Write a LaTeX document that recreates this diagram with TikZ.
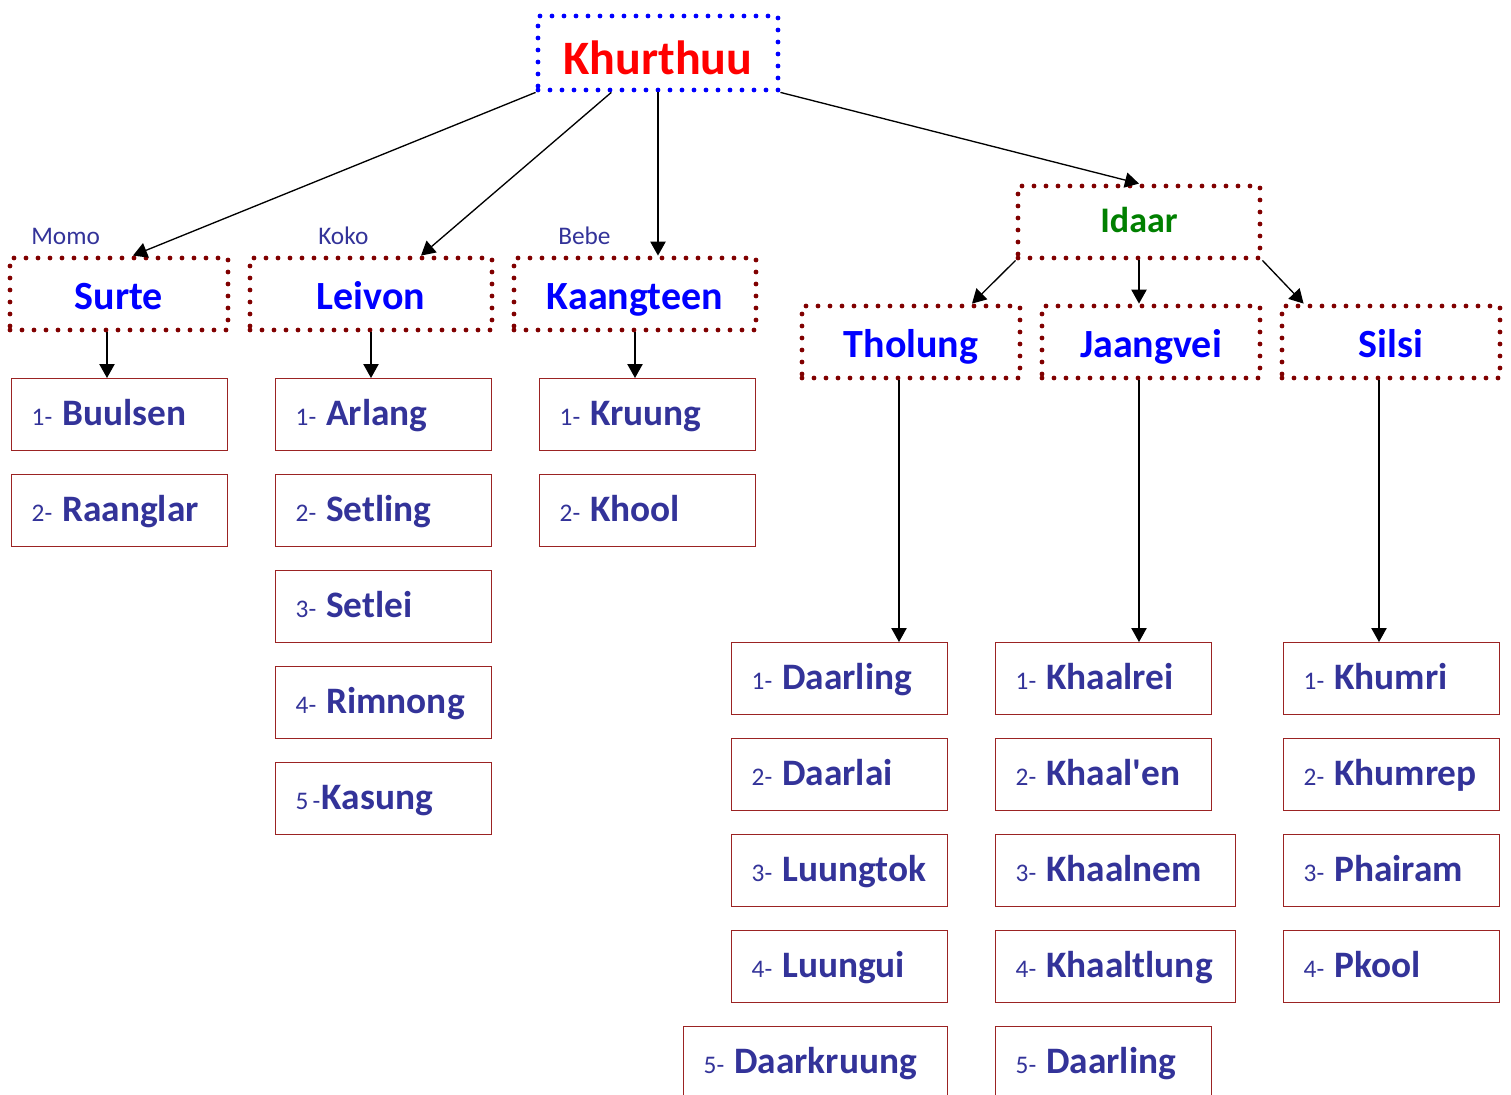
\documentclass[tikz,border=0pt]{standalone}
\usepackage{fontspec}
\setmainfont{Carlito}
\usepackage{tikz}
\usetikzlibrary{arrows.meta}
\definecolor{ItemBlue}{RGB}{51,51,153}
\definecolor{BoxRed}{RGB}{155,35,35}
\definecolor{DotRed}{RGB}{128,0,0}
\definecolor{DotBlue}{RGB}{0,0,255}
\definecolor{TitleGreen}{RGB}{0,128,0}
\newcommand{\ItemNum}[1]{{\fontsize{19pt}{22pt}\mdseries\selectfont #1}}
\newcommand{\Item}[3][7.5pt]{\mbox{\ItemNum{#2}\hspace{#1}#3}}
\tikzset{
  BaseNode/.style = {rectangle, inner sep=0pt},
  DotNode/.style = {BaseNode, line width=3.6pt, dash pattern=on 0pt off 9pt, line cap=round, minimum height=54pt, text height=22.5pt, text depth=0pt, text=blue, font=\fontsize{30pt}{36pt}\selectfont\bfseries},
  RootNode/.style = {DotNode, draw=DotBlue, minimum width=180pt, minimum height=55.5pt, text height=33pt, text=red, font=\fontsize{36pt}{42pt}\selectfont\bfseries},
  GroupNode/.style = {DotNode, draw=DotRed, minimum width=#1},
  GroupNode/.default = 163.5pt,
  ItemNode/.style = {BaseNode, anchor=north west, draw=BoxRed, line width=1pt, minimum height=54pt, inner xsep=15pt, text width=#1, align=left, text height=16pt, text depth=0pt, text=ItemBlue, font=\fontsize{28pt}{33pt}\selectfont\bfseries},
  ItemNode/.default = 132pt,
  NoteNode/.style = {BaseNode, anchor=base west, text=ItemBlue, font=\fontsize{19pt}{22pt}\selectfont},
  Link/.style = {->, line width=1pt},
}

\begin{document}
\begin{tikzpicture}[x=0.75pt, y=-0.75pt, >={Triangle[length=10.5pt,width=11.5pt]}]
  \useasboundingbox (0,0) rectangle (1511,1095);
  \clip (0,0) rectangle (1511,1095);

  \node [RootNode] (root) at (658,53) {Khurthuu};

  \node [GroupNode] (surte) at (119,294) {Surte};
  \node [GroupNode=181.5pt] (leivon) at (371,294) {Leivon};
  \node [GroupNode=181.5pt] (kaang) at (635,294) {Kaangteen};
  \node [GroupNode=181.5pt, text=TitleGreen, text height=16.5pt, font=\fontsize{27pt}{32pt}\selectfont\bfseries] (idaar) at (1139,222) {Idaar};
  \node [GroupNode] (tholung) at (911,342) {Tholung};
  \node [GroupNode] (jaangvei) at (1151,342) {Jaangvei};
  \node [GroupNode] (silsi) at (1391,342) {Silsi};

  \node [NoteNode] (momo) at (31,245) {Momo};
  \node [NoteNode] (koko) at (318,245) {Koko};
  \node [NoteNode] (bebe) at (558,245) {Bebe};

  \node [ItemNode] (s1) at (11,378) {\Item{1-}{Buulsen}};
  \node [ItemNode] (s2) at (11,474) {\Item{2-}{Raanglar}};

  \node [ItemNode] (l1) at (275,378) {\Item{1-}{Arlang}};
  \node [ItemNode] (l2) at (275,474) {\Item{2-}{Setling}};
  \node [ItemNode] (l3) at (275,570) {\Item{3-}{Setlei}};
  \node [ItemNode] (l4) at (275,666) {\Item{4-}{Rimnong}};
  \node [ItemNode] (l5) at (275,762) {\Item[1pt]{5\,-}{Kasung}};

  \node [ItemNode] (k1) at (539,378) {\Item{1-}{Kruung}};
  \node [ItemNode] (k2) at (539,474) {\Item{2-}{Khool}};

  \node [ItemNode] (d1) at (731,642) {\Item{1-}{Daarling}};
  \node [ItemNode] (d2) at (731,738) {\Item{2-}{Daarlai}};
  \node [ItemNode] (d3) at (731,834) {\Item{3-}{Luungtok}};
  \node [ItemNode] (d4) at (731,930) {\Item{4-}{Luungui}};
  \node [ItemNode=168pt] (d5) at (683,1026) {\Item{5-}{Daarkruung}};

  \node [ItemNode] (j1) at (995,642) {\Item{1-}{Khaalrei}};
  \node [ItemNode] (j2) at (995,738) {\Item{2-}{Khaal\textquotesingle en}};
  \node [ItemNode=150pt] (j3) at (995,834) {\Item{3-}{Khaalnem}};
  \node [ItemNode=150pt] (j4) at (995,930) {\Item{4-}{Khaaltlung}};
  \node [ItemNode] (j5) at (995,1026) {\Item{5-}{Daarling}};

  \node [ItemNode] (i1) at (1283,642) {\Item{1-}{Khumri}};
  \node [ItemNode] (i2) at (1283,738) {\Item{2-}{Khumrep}};
  \node [ItemNode] (i3) at (1283,834) {\Item{3-}{Phairam}};
  \node [ItemNode] (i4) at (1283,930) {\Item{4-}{Pkool}};

  \draw [Link] (root.south west) -- ([xshift=10.5pt]surte.north);
  \draw [Link] ([xshift=-35pt]root.south) -- ([xshift=37.5pt]leivon.north);
  \draw [Link] (root.south) -- (root.south |- kaang.north);
  \draw [Link] (root.south east) -- (idaar.north);

  \draw [Link] (idaar.south west) -- ([xshift=45.75pt]tholung.north);
  \draw [Link] (idaar.south) -- (idaar.south |- jaangvei.north);
  \draw [Link] (idaar.south east) -- ([xshift=18pt]silsi.north west);

  \coordinate (surteOut) at ([xshift=-9pt]surte.south);
  \coordinate (tholungOut) at ([xshift=-9pt]tholung.south);
  \coordinate (jaangveiOut) at ([xshift=-9pt]jaangvei.south);
  \coordinate (silsiOut) at ([xshift=-9pt]silsi.south);
  \draw [Link] (surteOut) -- (surteOut |- s1.north);
  \draw [Link] (leivon.south) -- (leivon.south |- l1.north);
  \draw [Link] (kaang.south) -- (kaang.south |- k1.north);
  \draw [Link] (tholungOut) -- (tholungOut |- d1.north);
  \draw [Link] (jaangveiOut) -- (jaangveiOut |- j1.north);
  \draw [Link] (silsiOut) -- (silsiOut |- i1.north);
\end{tikzpicture}
\end{document}
